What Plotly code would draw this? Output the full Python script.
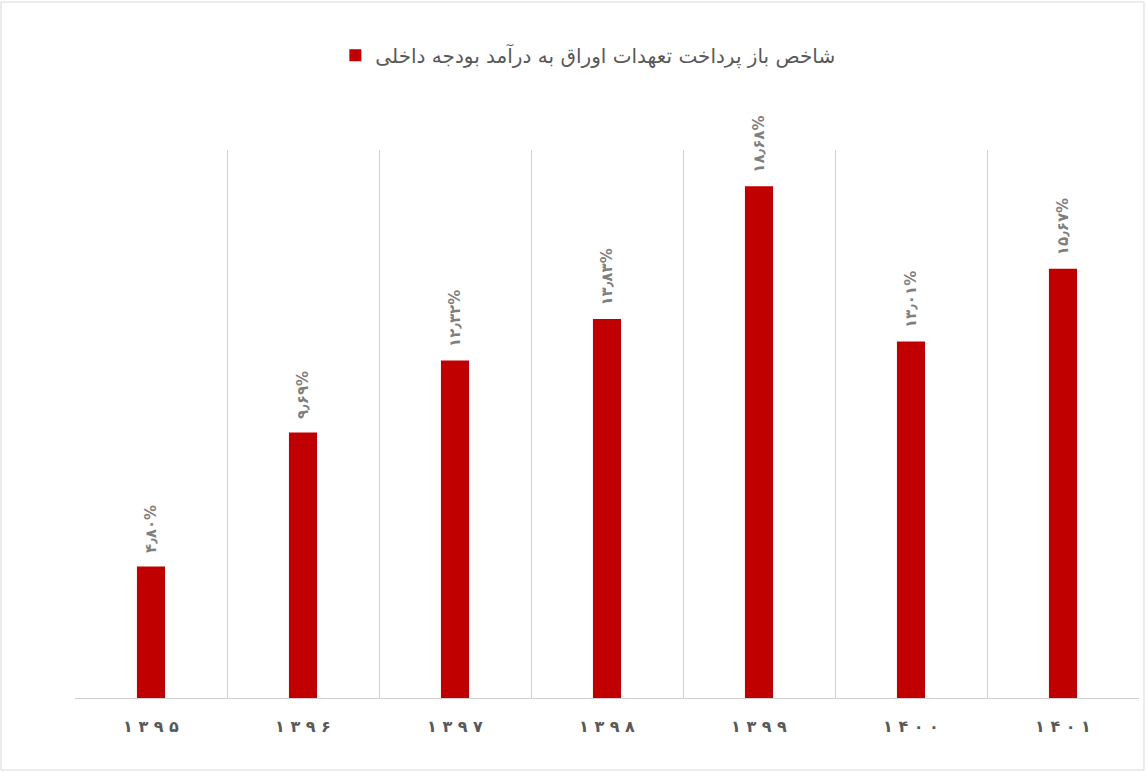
import plotly.graph_objects as go

# Fiscal years (Solar Hijri) and the ratio of bond repayments to domestic budget revenue (%)
years = ["۱۳۹۵", "۱۳۹۶", "۱۳۹۷", "۱۳۹۸", "۱۳۹۹", "۱۴۰۰", "۱۴۰۱"]
ratio_pct = [4.80, 9.69, 12.32, 13.83, 18.68, 13.01, 15.67]
series_name = "شاخص باز پرداخت تعهدات اوراق به درآمد بودجه داخلی"

FA_DIGITS = str.maketrans("0123456789.", "۰۱۲۳۴۵۶۷۸۹٫")


def fa_percent(v):
    return f"{v:.2f}".translate(FA_DIGITS) + "%"


# non-breaking spaces lift the rotated label a little off the bar top
labels = ["\u00a0\u00a0" + fa_percent(v) for v in ratio_pct]
spaced_years = [" ".join(y) for y in years]

FONT = "DejaVu Sans"

fig = go.Figure(
    go.Bar(
        x=spaced_years,
        y=ratio_pct,
        name=series_name,
        marker=dict(color="#c00000", line=dict(width=0)),
        width=0.185,
        text=labels,
        textposition="outside",
        textangle=-90,
        constraintext="none",
        cliponaxis=False,
        textfont=dict(family=FONT, size=15, color="#7f7f7f", weight="bold"),
        showlegend=True,
    )
)

fig.update_layout(
    width=1146,
    height=772,
    margin=dict(l=75, r=7, t=150, b=74),
    paper_bgcolor="white",
    plot_bgcolor="white",
    font=dict(family=FONT, color="#595959"),
    showlegend=True,
    legend=dict(
        orientation="h",
        x=0.482,
        xanchor="center",
        y=1.173,
        yanchor="middle",
        font=dict(family=FONT, size=20, color="#595959"),
        itemwidth=30,
    ),
    xaxis=dict(
        type="category",
        tickson="boundaries",
        showgrid=True,
        gridcolor="#d0d0d0",
        gridwidth=1,
        showline=True,
        linecolor="#d0d0d0",
        linewidth=1,
        ticks="",
        tickfont=dict(family=FONT, size=16, color="#595959", weight="bold"),
        ticklabelstandoff=14,
    ),
    yaxis=dict(
        range=[0, 20],
        showgrid=False,
        zeroline=False,
        showticklabels=False,
        ticks="",
    ),
    shapes=[
        dict(
            type="rect",
            xref="paper",
            yref="paper",
            x0=(1 - 75) / 1064,
            x1=(1144 - 75) / 1064,
            y0=(698 - 770) / 548,
            y1=(698 - 2) / 548,
            line=dict(color="#d9d9d9", width=1),
            fillcolor="rgba(0,0,0,0)",
            layer="below",
        )
    ],
)

fig.write_html("out.html")
